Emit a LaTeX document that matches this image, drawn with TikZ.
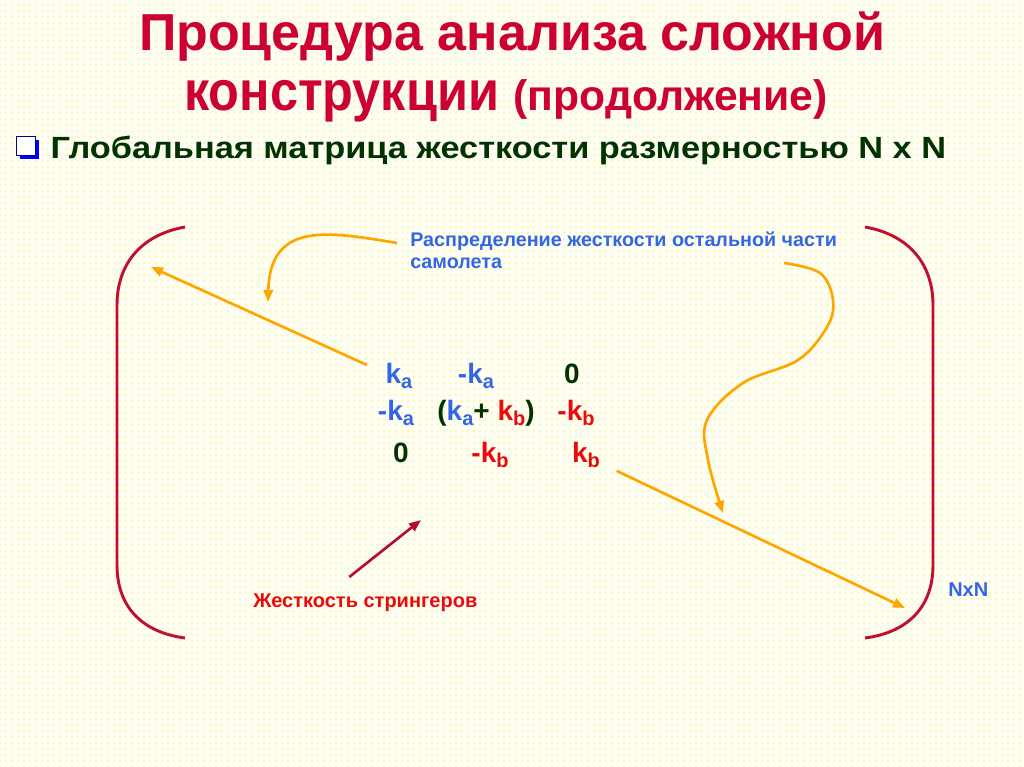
\documentclass[tikz,border=0pt]{standalone}
\usepackage{fontspec}
\setmainfont{Liberation Sans}
\usetikzlibrary{arrows.meta,patterns.meta,shadows}
\definecolor{titlered}{RGB}{204,0,51}
\definecolor{brkred}{RGB}{192,16,48}
\definecolor{darkgreen}{RGB}{0,51,0}
\definecolor{kblue}{RGB}{51,102,230}
\definecolor{kred}{RGB}{235,10,10}
\definecolor{strred}{RGB}{180,15,50}
\definecolor{arrorange}{RGB}{255,165,0}
\definecolor{bgdot}{RGB}{245,245,110}
\newcommand{\lowidx}[1]{\raisebox{-0.4ex}{\fontsize{15}{15}\selectfont #1}}
\newcommand{\kk}[1]{k\lowidx{#1}}
\tikzset{
  entry/.style={anchor=base, font=\fontsize{21}{21}\selectfont\bfseries},
  heading/.style={anchor=base, titlered, font=\fontsize{39}{40}\selectfont\bfseries},
  note/.style={inner sep=0pt, font=\fontsize{14.8}{16}\selectfont\bfseries},
  bracket/.style={brkred, line width=2.2pt},
  pointer/.style={arrorange, line width=2pt, -{Triangle[length=9pt,width=7pt]}},
}
\begin{document}
\begin{tikzpicture}[x=0.75pt, y=-0.75pt]
  % background
  \fill[white!96!yellow] (0,0) rectangle (1024,767);
  \fill[pattern={Dots[distance=4.5pt,radius=0.6pt]}, pattern color=bgdot] (0,0) rectangle (1024,767);
  \useasboundingbox (0,0) rectangle (1024,767);
  % title
  \node[heading] (t1) at (512,51) {Процедура анализа сложной};
  \node[heading] (t2) at (506,110) {\scalebox{0.9}[1]{\fontsize{42}{42}\selectfont конструкции}
       {\fontsize{32}{32}\selectfont(продолжение)}};
  \node[draw=blue!60!black, fill=white, minimum size=14pt, inner sep=0pt,
        drop shadow={shadow xshift=2.5pt, shadow yshift=-2.5pt, fill=blue, opacity=1}] (chk) at (26,146) {};
  \node[anchor=base west, darkgreen, font=\fontsize{23}{23}\selectfont\bfseries] (sub) at (46,158)
       {\scalebox{1.12}[1]{Глобальная матрица жесткости размерностью N x N}};
  % brackets
  \draw[bracket] (185,227) .. controls (140,235) and (117,265) .. (117,305) -- (117,565)
                 .. controls (117,605) and (140,632) .. (185,638);
  \draw[bracket] (865,227) .. controls (910,235) and (933,265) .. (933,305) -- (933,565)
                 .. controls (933,605) and (910,632) .. (865,638);
  % matrix
  \node[entry, kblue] (m11) at (399,383) {\kk{a}};
  \node[entry, kblue] (m12) at (476,383) {-\kk{a}};
  \node[entry, darkgreen] (m13) at (572,383) {0};
  \node[entry, kblue] (m21) at (396,420) {-\kk{a}};
  \node[entry, darkgreen] (m22) at (486,420) {(\textcolor{kblue}{\kk{a}}+ \textcolor{kred}{\kk{b}})};
  \node[entry, kred] (m23) at (576,420) {-\kk{b}};
  \node[entry, darkgreen] (m31) at (401,462) {0};
  \node[entry, kred] (m32) at (490,462) {-\kk{b}};
  \node[entry, kred] (m33) at (586,462) {\kk{b}};
  % labels
  \node[note, kblue, anchor=north west, align=left] (rest) at (410,232)
       {Распределение жесткости остальной части\\самолета};
  \node[note, kred, anchor=base west, font=\fontsize{15}{15}\selectfont\bfseries] (str) at (253,607) {Жесткость стрингеров};
  \node[note, kblue, anchor=base west, font=\fontsize{15}{15}\selectfont\bfseries] (nn) at (948,596) {NxN};
  % arrows
  \coordinate (tl) at (151,267);
  \coordinate (tr) at (268,302);
  \coordinate (br) at (905,608);
  \coordinate (mid) at (723,513);
  \coordinate (wv) at (784,263);
  \coordinate (st) at (421,520);
  \draw[pointer] ([shift={(-14,7)}]m11.north west) -- (tl);
  \draw[pointer] ([shift={(12,-2)}]m33.south east) -- (br);
  \draw[pointer] ([shift={(-13,11)}]rest.north west) .. controls (330,232) and (270,220) .. (tr);
  \draw[pointer] plot[smooth, tension=0.6] coordinates {(wv) (820,273) (833,300) (827,327)
        (798,360) (743,383) (707,420) (708,460) (mid)};
  \draw[strred, line width=2pt, -{Triangle[length=9pt,width=7pt]}] ([shift={(-16,-16)}]str.north) -- (st);
\end{tikzpicture}
\end{document}
